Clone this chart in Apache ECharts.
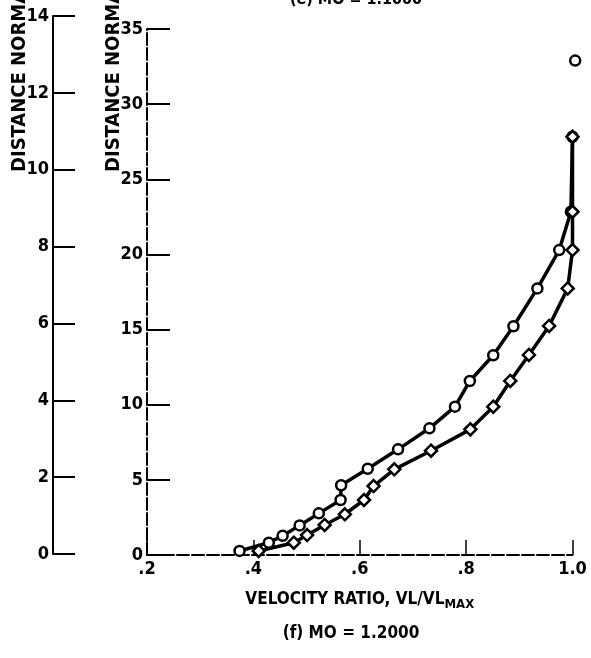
<!DOCTYPE html>
<html>
<head>
<meta charset="utf-8">
<script src="https://cdn.jsdelivr.net/npm/echarts@6/dist/echarts.min.js"></script>
<style>html,body{margin:0;padding:0;background:#fff;}#c{width:591px;height:658px;}</style>
</head>
<body>
<div id="c"></div>
<script>
// ---- data ----
var xTicks = [0.2, 0.4, 0.6, 0.8, 1.0];
var innerYTicks = [0, 5, 10, 15, 20, 25, 30, 35];
var outerYTicks = [0, 2, 4, 6, 8, 10, 12, 14];

var circleX = [0.374, 0.429, 0.455, 0.487, 0.523, 0.564, 0.565, 0.615, 0.672, 0.731, 0.779, 0.807, 0.851, 0.889, 0.934, 0.975, 0.997, 1.0];
var circleY = [0.27, 0.82, 1.28, 1.97, 2.77, 3.66, 4.64, 5.74, 7.03, 8.43, 9.87, 11.58, 13.29, 15.22, 17.74, 20.29, 22.84, 27.83];
var isolatedX = [1.005];
var isolatedY = [32.9];

var diamondX = [0.410, 0.476, 0.501, 0.534, 0.572, 0.608, 0.626, 0.665, 0.734, 0.808, 0.851, 0.883, 0.918, 0.956, 0.991, 1.0, 1.0, 1.0];
var diamondY = [0.27, 0.82, 1.33, 2.0, 2.71, 3.66, 4.59, 5.70, 6.94, 8.36, 9.87, 11.58, 13.31, 15.24, 17.74, 20.29, 22.84, 27.83];

var titleText = '(e) MO = 1.1000';
var captionText = '(f) MO = 1.2000';
var yName = 'DISTANCE NORMALIZED';
var xName = 'VELOCITY RATIO, VL/VL';
var xNameSub = 'MAX';

// ---- chart ----
var FONT = "'DejaVu Sans Condensed', 'Liberation Sans Narrow', sans-serif";
function zip(xs, ys) { return xs.map(function (x, i) { return [x, ys[i]]; }); }

var chart = echarts.init(document.getElementById('c'), null, {renderer: 'canvas'});
var lineCol = '#000';
var axisLabelStyle = {color: '#000', fontFamily: FONT, fontWeight: 'bold', fontSize: 18};

chart.setOption({
  backgroundColor: '#fff',
  animation: false,
  grid: [
    {left: 147, right: 18.5, top: 29, bottom: 103},
    {left: 53, width: 20, top: 16, bottom: 104}
  ],
  xAxis: [
    {
      gridIndex: 0, type: 'value', min: xTicks[0], max: xTicks[xTicks.length - 1], interval: 0.2,
      splitLine: {show: false},
      axisLine: {lineStyle: {color: lineCol, width: 2, type: [12, 3]}},
      axisTick: {inside: true, length: 15, lineStyle: {color: lineCol, width: 1.5}},
      axisLabel: Object.assign({margin: 5, formatter: function (v) {
        return Math.abs(v - 1) < 1e-9 ? '1.0' : '.' + Math.round(v * 10);
      }}, axisLabelStyle),
      name: '{a|' + xName + '}{s|' + xNameSub + '}',
      nameLocation: 'middle', nameGap: 34,
      nameTextStyle: {
        rich: {
          a: {color: '#000', fontFamily: FONT, fontWeight: 'bold', fontSize: 17},
          s: {color: '#000', fontFamily: FONT, fontWeight: 'bold', fontSize: 13, padding: [9, 0, 0, 0]}
        }
      }
    },
    {gridIndex: 1, type: 'value', min: 0, max: 1, show: false}
  ],
  yAxis: [
    {
      gridIndex: 0, type: 'value', min: innerYTicks[0], max: innerYTicks[innerYTicks.length - 1], interval: 5,
      splitLine: {show: false},
      axisLine: {show: true, lineStyle: {color: lineCol, width: 2, type: [12, 3]}},
      axisTick: {show: true, inside: true, length: 23, lineStyle: {color: lineCol, width: 2}},
      axisLabel: Object.assign({margin: 4}, axisLabelStyle)
    },
    {
      gridIndex: 1, type: 'value', min: outerYTicks[0], max: outerYTicks[outerYTicks.length - 1], interval: 2,
      splitLine: {show: false},
      axisLine: {show: true, lineStyle: {color: lineCol, width: 2}},
      axisTick: {show: true, inside: true, length: 22, lineStyle: {color: lineCol, width: 2}},
      axisLabel: Object.assign({margin: 4}, axisLabelStyle)
    }
  ],
  series: [
    {
      type: 'line', xAxisIndex: 0, yAxisIndex: 0, clip: false,
      data: zip(circleX, circleY),
      symbol: 'circle', symbolSize: 10,
      itemStyle: {color: '#fff', borderColor: '#000', borderWidth: 2.5},
      lineStyle: {color: '#000', width: 3.5}
    },
    {
      type: 'line', xAxisIndex: 0, yAxisIndex: 0, clip: false,
      data: zip(diamondX, diamondY),
      symbol: 'diamond', symbolSize: 12,
      itemStyle: {color: '#fff', borderColor: '#000', borderWidth: 2.5},
      lineStyle: {color: '#000', width: 3.5}
    },
    {
      type: 'scatter', xAxisIndex: 0, yAxisIndex: 0, clip: false,
      data: zip(isolatedX, isolatedY),
      symbol: 'circle', symbolSize: 10,
      itemStyle: {color: '#fff', borderColor: '#000', borderWidth: 2.5, opacity: 1}
    }
  ],
  graphic: [
    {type: 'text', x: 20, y: 172, rotation: Math.PI / 2,
      style: {text: yName, fill: '#000', font: 'bold 20px ' + FONT, textAlign: 'left', textVerticalAlign: 'middle'}},
    {type: 'text', x: 114, y: 172, rotation: Math.PI / 2,
      style: {text: yName, fill: '#000', font: 'bold 20px ' + FONT, textAlign: 'left', textVerticalAlign: 'middle'}},
    {type: 'text', x: 356, y: 0,
      style: {text: titleText, fill: '#000', font: 'bold 16px ' + FONT, textAlign: 'center', textVerticalAlign: 'middle'}},
    {type: 'text', x: 351, y: 634,
      style: {text: captionText, fill: '#000', font: 'bold 17px ' + FONT, textAlign: 'center', textVerticalAlign: 'middle'}}
  ]
});
</script>
</body>
</html>
